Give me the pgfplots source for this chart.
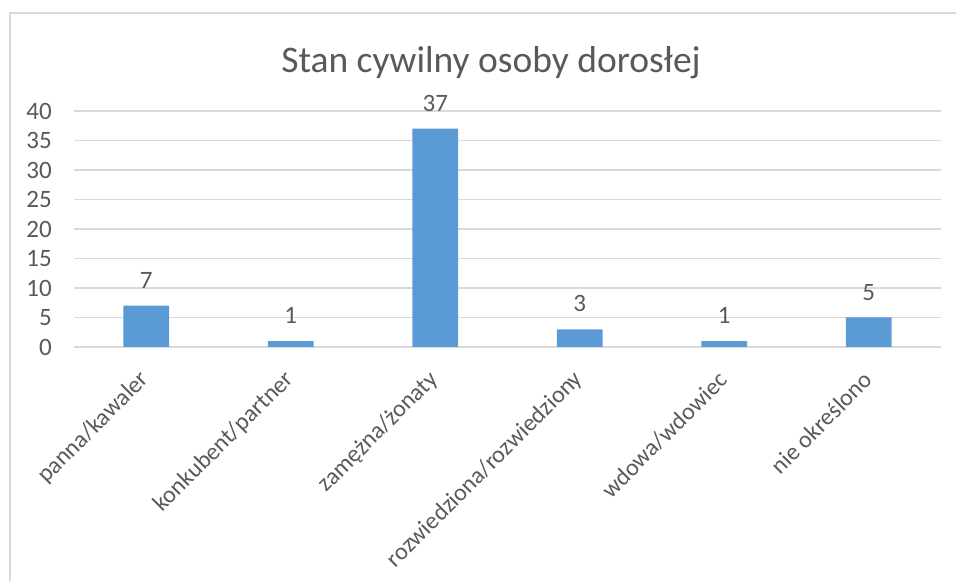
\documentclass[border=0pt]{standalone}
\usepackage{fontspec}
\setmainfont{Carlito}
\usepackage{pgfplots}
\pgfplotsset{compat=1.18}
\definecolor{barblue}{HTML}{5B9BD5}
\definecolor{txt}{HTML}{595959}
\definecolor{gridc}{HTML}{D9D9D9}
\begin{document}
\begin{tikzpicture}[x=1pt,y=1pt]
\path[use as bounding box] (0,0) rectangle (956,581);
\draw[gridc, line width=1.5pt] (10,0) -- (10,568) -- (956,568);
\node[txt, font=\fontsize{37.5}{40}\selectfont, anchor=base] at (491,508) {Stan cywilny osoby dorosłej};
\begin{axis}[
  at={(74pt,234pt)}, anchor=south west,
  scale only axis, width=867pt, height=236pt,
  xmin=-0.5, xmax=5.5, ymin=0, ymax=40,
  ytick={0,5,...,40},
  xtick={0,...,5},
  xticklabels={panna/kawaler, konkubent/partner, zamężna/żonaty, rozwiedziona/rozwiedziony, wdowa/wdowiec, nie określono},
  ybar, bar width=45.6pt,
  axis line style={draw=none},
  major tick length=0pt,
  ymajorgrids, grid style={gridc, line width=1.3pt},
  /pgf/number format/assume math mode=true,
  yticklabel style={txt, font=\fontsize{25}{27}\selectfont, inner sep=0pt, xshift=-22pt},
  xticklabel style={txt, font=\fontsize{24}{26}\selectfont, rotate=45, anchor=east, inner sep=0pt, xshift=-21pt, yshift=-20pt},
  nodes near coords,
  every node near coord/.append style={txt, font=\fontsize{25}{27}\selectfont, inner sep=0pt, yshift=17pt},
  clip=false,
]
\addplot[fill=barblue, draw=none] coordinates {(0,7) (1,1) (2,37) (3,3) (4,1) (5,5)};
\end{axis}
\end{tikzpicture}
\end{document}
